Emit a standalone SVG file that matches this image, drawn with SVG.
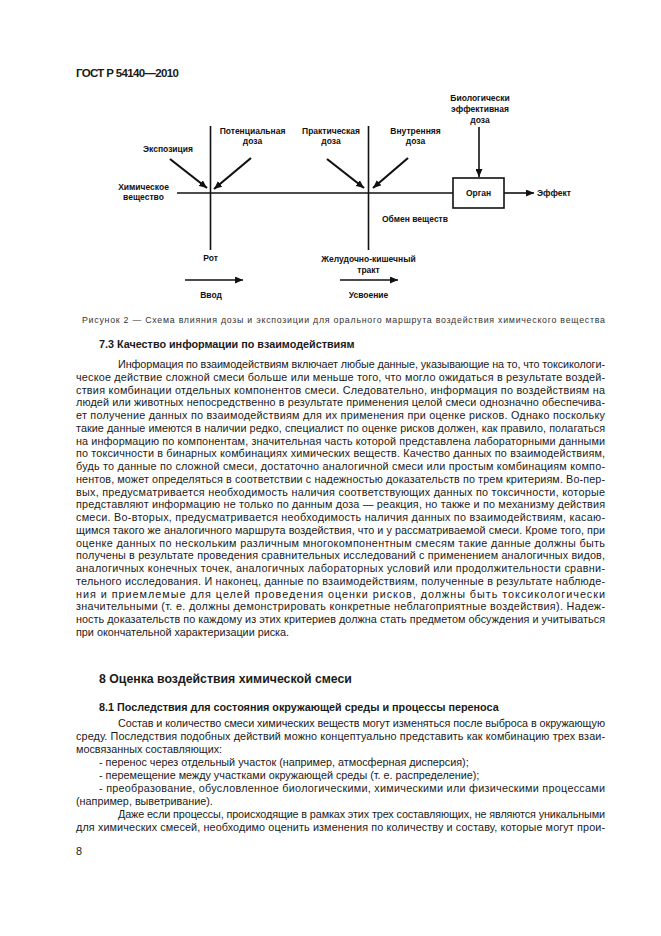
<svg xmlns="http://www.w3.org/2000/svg" width="661" height="936" viewBox="0 0 661 936">
<defs>
<style>
.t{font-family:"Liberation Sans",Arial,sans-serif;font-size:10.8px;fill:#1a1a1a}
.b{font-weight:bold}
.d{font-family:"Liberation Sans",Arial,sans-serif;font-size:8.5px;font-weight:bold;fill:#111;text-anchor:middle}
.cap{font-family:"Liberation Sans",Arial,sans-serif;font-size:8.8px;fill:#333}
.ln{stroke:#111;stroke-width:1.6;fill:none}
.ar{stroke:#111;stroke-width:2.2;fill:none}
</style>
<marker id="ah" markerUnits="userSpaceOnUse" markerWidth="8" markerHeight="7" refX="8" refY="3.5" orient="auto">
<path d="M0,0 L8,3.5 L0,7 z" fill="#111"/>
</marker>
</defs>
<rect width="661" height="936" fill="#fff"/>

<text class="t b" x="76" y="77" style="font-size:11.5px" textLength="103">ГОСТ Р 54140—2010</text>

<g id="connectors">
<line class="ln" x1="210.5" y1="126" x2="210.5" y2="250"/>
<line class="ln" x1="368.5" y1="126" x2="368.5" y2="250"/>
<line class="ln" x1="177" y1="193" x2="453" y2="193"/>
<line class="ar" x1="170" y1="159" x2="207" y2="188" marker-end="url(#ah)"/>
<line class="ar" x1="251" y1="158" x2="214" y2="189" marker-end="url(#ah)"/>
<line class="ar" x1="327" y1="159" x2="364" y2="188" marker-end="url(#ah)"/>
<line class="ar" x1="408" y1="158" x2="373" y2="188" marker-end="url(#ah)"/>
<line class="ln" x1="479" y1="127" x2="479" y2="177" marker-end="url(#ah)"/>
<line class="ln" x1="504" y1="193" x2="534" y2="193" marker-end="url(#ah)"/>
<line class="ln" x1="185" y1="280" x2="243" y2="280" marker-end="url(#ah)"/>
<line class="ln" x1="340" y1="280" x2="398" y2="280" marker-end="url(#ah)"/>
</g>

<g id="node-organ">
<rect x="453" y="178" width="51" height="30" fill="#fff" stroke="#111" stroke-width="1.6"/>
<text class="d" x="478.5" y="196">Орган</text>
</g>
<g id="node-bio-dose">
<text class="d" x="480" y="101">Биологически</text>
<text class="d" x="480" y="112">эффективная</text>
<text class="d" x="480" y="123">доза</text>
</g>
<g id="node-potential-dose">
<text class="d" x="252.5" y="134">Потенциальная</text>
<text class="d" x="252.5" y="144">доза</text>
</g>
<g id="node-applied-dose">
<text class="d" x="331" y="134">Практическая</text>
<text class="d" x="331" y="144">доза</text>
</g>
<g id="node-internal-dose">
<text class="d" x="415.5" y="134">Внутренняя</text>
<text class="d" x="415.5" y="144">доза</text>
</g>
<g id="node-exposure">
<text class="d" x="168" y="152">Экспозиция</text>
</g>
<g id="node-chemical">
<text class="d" x="143.5" y="190">Химическое</text>
<text class="d" x="143.5" y="200">вещество</text>
</g>
<g id="node-effect">
<text class="d" x="537" y="196" style="text-anchor:start">Эффект</text>
</g>
<g id="node-metabolism">
<text class="d" x="382" y="222" style="text-anchor:start">Обмен веществ</text>
</g>
<g id="node-mouth">
<text class="d" x="210.5" y="261">Рот</text>
</g>
<g id="node-gi">
<text class="d" x="368.5" y="262">Желудочно-кишечный</text>
<text class="d" x="368.5" y="273">тракт</text>
</g>
<g id="node-intake">
<text class="d" x="211" y="298">Ввод</text>
</g>
<g id="node-uptake">
<text class="d" x="368.5" y="298">Усвоение</text>
</g>

<text class="cap" x="82" y="323" textLength="523" lengthAdjust="spacing">Рисунок 2 — Схема влияния дозы и экспозиции для орального маршрута воздействия химического вещества</text>

<text class="t b" x="99" y="348">7.3  Качество информации по взаимодействиям</text>
<text class="t" x="118" y="368" textLength="487">Информация по взаимодействиям включает любые данные, указывающие на то, что токсикологи-</text>
<text class="t" x="76" y="380.75" textLength="529">ческое действие сложной смеси больше или меньше того, что могло ожидаться в результате воздей-</text>
<text class="t" x="76" y="393.5" textLength="529">ствия комбинации отдельных компонентов смеси. Следовательно, информация по воздействиям на</text>
<text class="t" x="76" y="406.25" textLength="529">людей или животных непосредственно в результате применения целой смеси однозначно обеспечива-</text>
<text class="t" x="76" y="419" textLength="529">ет получение данных по взаимодействиям для их применения при оценке рисков. Однако поскольку</text>
<text class="t" x="76" y="431.75" textLength="529">такие данные имеются в наличии редко, специалист по оценке рисков должен, как правило, полагаться</text>
<text class="t" x="76" y="444.5" textLength="529">на информацию по компонентам, значительная часть которой представлена лабораторными данными</text>
<text class="t" x="76" y="457.25" textLength="529">по токсичности в бинарных комбинациях химических веществ. Качество данных по взаимодействиям,</text>
<text class="t" x="76" y="470" textLength="529">будь то данные по сложной смеси, достаточно аналогичной смеси или простым комбинациям компо-</text>
<text class="t" x="76" y="482.75" textLength="529">нентов, может определяться в соответствии с надежностью доказательств по трем критериям. Во-пер-</text>
<text class="t" x="76" y="495.5" textLength="529">вых, предусматривается необходимость наличия соответствующих данных по токсичности, которые</text>
<text class="t" x="76" y="508.25" textLength="529">представляют информацию не только по данным доза — реакция, но также и по механизму действия</text>
<text class="t" x="76" y="521" textLength="529">смеси. Во-вторых, предусматривается необходимость наличия данных по взаимодействиям, касаю-</text>
<text class="t" x="76" y="533.75" textLength="529">щимся такого же аналогичного маршрута воздействия, что и у рассматриваемой смеси. Кроме того, при</text>
<text class="t" x="76" y="546.5" textLength="529">оценке данных по нескольким различным многокомпонентным смесям такие данные должны быть</text>
<text class="t" x="76" y="559.25" textLength="529">получены в результате проведения сравнительных исследований с применением аналогичных видов,</text>
<text class="t" x="76" y="572" textLength="529">аналогичных конечных точек, аналогичных лабораторных условий или продолжительности сравни-</text>
<text class="t" x="76" y="584.75" textLength="529">тельного исследования. И наконец, данные по взаимодействиям, полученные в результате наблюде-</text>
<text class="t" x="76" y="597.5" textLength="529">ния и приемлемые для целей проведения оценки рисков, должны быть токсикологически</text>
<text class="t" x="76" y="610.25" textLength="529">значительными (т. е. должны демонстрировать конкретные неблагоприятные воздействия). Надеж-</text>
<text class="t" x="76" y="623" textLength="529">ность доказательств по каждому из этих критериев должна стать предметом обсуждения и учитываться</text>
<text class="t" x="76" y="635.75">при окончательной характеризации риска.</text>

<text class="t b" x="99" y="682.5" style="font-size:12.3px">8  Оценка воздействия химической смеси</text>
<text class="t b" x="99" y="711">8.1  Последствия для состояния окружающей среды и процессы переноса</text>
<text class="t" x="118" y="727" textLength="487">Состав и количество смеси химических веществ могут изменяться после выброса в окружающую</text>
<text class="t" x="76" y="740" textLength="529">среду. Последствия подобных действий можно концептуально представить как комбинацию трех взаи-</text>
<text class="t" x="76" y="753">мосвязанных составляющих:</text>
<text class="t" x="99" y="766">- перенос через отдельный участок (например, атмосферная дисперсия);</text>
<text class="t" x="99" y="779">- перемещение между участками окружающей среды (т. е. распределение);</text>
<text class="t" x="99" y="792" textLength="506">- преобразование, обусловленное биологическими, химическими или физическими процессами</text>
<text class="t" x="76" y="805">(например, выветривание).</text>
<text class="t" x="118" y="818" textLength="487">Даже если процессы, происходящие в рамках этих трех составляющих, не являются уникальными</text>
<text class="t" x="76" y="831" textLength="529">для химических смесей, необходимо оценить изменения по количеству и составу, которые могут прои-</text>
<text class="t" x="76" y="855">8</text>
</svg>
